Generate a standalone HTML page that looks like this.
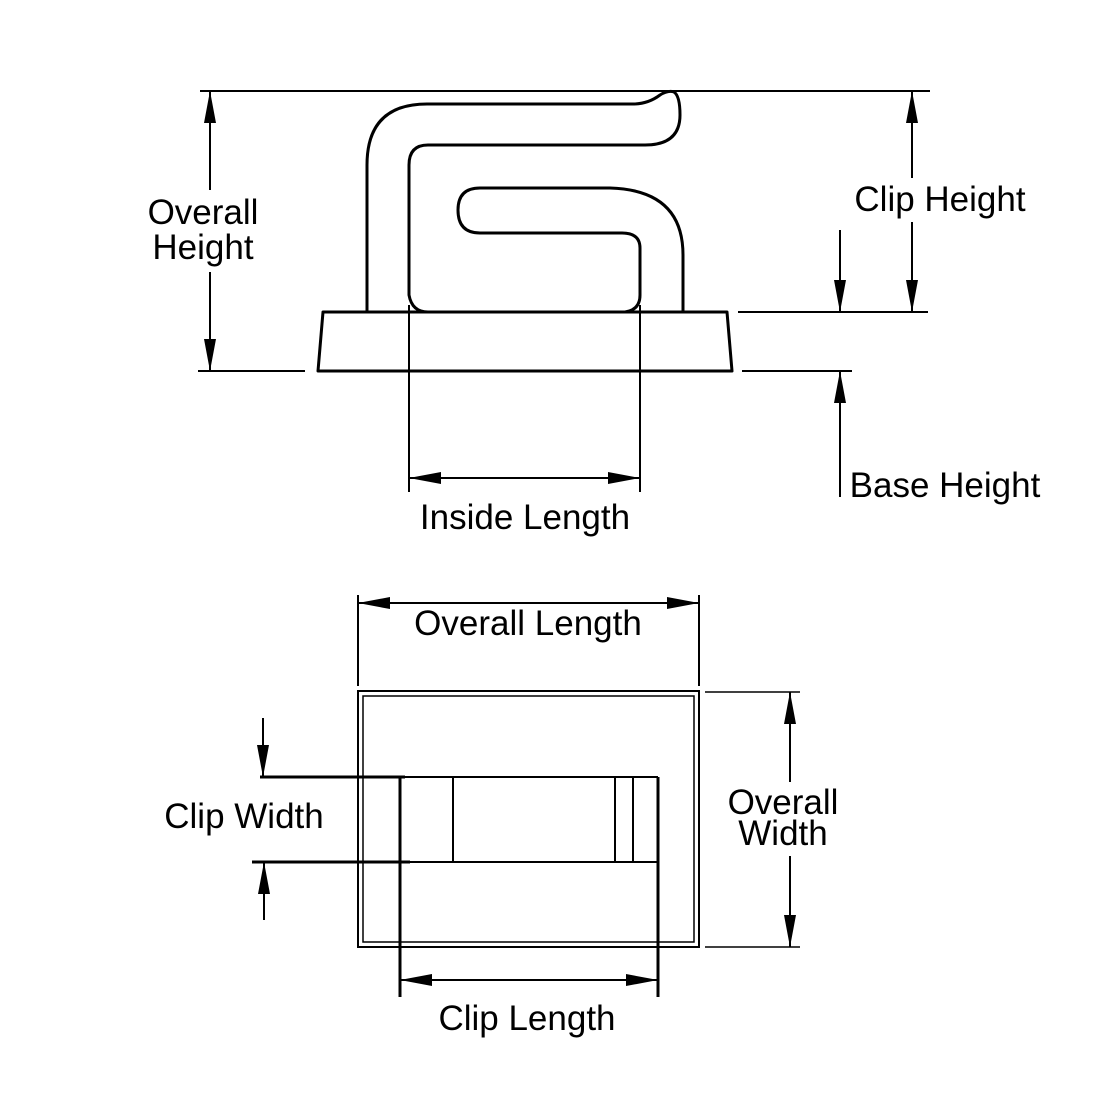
<!DOCTYPE html>
<html><head><style>html,body{margin:0;padding:0;background:#fff}</style></head>
<body>
<svg width="1100" height="1100" viewBox="0 0 1100 1100" xmlns="http://www.w3.org/2000/svg">
<defs>
<marker id="a" viewBox="0 0 32 12" refX="32" refY="6" markerWidth="32" markerHeight="12" markerUnits="userSpaceOnUse" orient="auto-start-reverse"><path d="M0,0 L32,6 L0,12 Z" fill="#000"/></marker>
</defs>
<g fill="none" stroke="#000" stroke-width="3" stroke-linejoin="round">
<path d="M367,313 L367,165 Q367,104 427,104 L633,104 Q648,104 660,95 Q668,90 674,92 Q680,96 680,115 Q680,145 645,145 L428,145 Q409,145 409,165 L409,295 Q412,312 428,312 L625,312 Q640,310 640,295 L640,248 Q640,233 622,233 L480,233 Q458,233 458,210 Q458,188 480,188 L610,188 Q683,190 683,255 L683,312"/>
<path d="M323,312 L727,312 L732,371 L318,371 Z"/>
</g>
<g stroke="#000" stroke-width="2" fill="none">
<line x1="200" y1="91" x2="930" y2="91"/>
<line x1="198" y1="371" x2="305" y2="371"/>
<line x1="742" y1="371" x2="852" y2="371"/>
<line x1="738" y1="312" x2="928" y2="312"/>
<line x1="210" y1="190" x2="210" y2="91" marker-end="url(#a)"/>
<line x1="210" y1="272" x2="210" y2="371" marker-end="url(#a)"/>
<line x1="912" y1="178" x2="912" y2="91" marker-end="url(#a)"/>
<line x1="912" y1="222" x2="912" y2="312" marker-end="url(#a)"/>
<line x1="840" y1="230" x2="840" y2="312" marker-end="url(#a)"/>
<line x1="840" y1="497" x2="840" y2="371" marker-end="url(#a)"/>
<line x1="409" y1="305" x2="409" y2="492"/>
<line x1="640" y1="305" x2="640" y2="492"/>
<line x1="409" y1="478" x2="640" y2="478" marker-start="url(#a)" marker-end="url(#a)"/>
<rect x="358" y="691" width="341" height="256"/>
<rect x="363" y="696" width="331" height="246" stroke-width="1.5"/>
<line x1="358" y1="595" x2="358" y2="686"/>
<line x1="699" y1="595" x2="699" y2="686"/>
<line x1="358" y1="603" x2="699" y2="603" marker-start="url(#a)" marker-end="url(#a)"/>
<line x1="705" y1="692" x2="800" y2="692" stroke-width="1.5"/>
<line x1="705" y1="947" x2="800" y2="947" stroke-width="1.5"/>
<line x1="790" y1="782" x2="790" y2="692" marker-end="url(#a)"/>
<line x1="790" y1="856" x2="790" y2="947" marker-end="url(#a)"/>
<line x1="400" y1="777" x2="658" y2="777"/>
<line x1="400" y1="862" x2="658" y2="862"/>
<line x1="260" y1="777" x2="405" y2="777" stroke-width="3"/>
<line x1="252" y1="862" x2="410" y2="862" stroke-width="3"/>
<line x1="453" y1="777" x2="453" y2="862"/>
<line x1="615" y1="777" x2="615" y2="862"/>
<line x1="633" y1="777" x2="633" y2="862"/>
<line x1="400" y1="777" x2="400" y2="997" stroke-width="3"/>
<line x1="658" y1="777" x2="658" y2="997" stroke-width="3"/>
<line x1="400" y1="980" x2="658" y2="980" marker-start="url(#a)" marker-end="url(#a)"/>
<line x1="263" y1="718" x2="263" y2="777" marker-end="url(#a)"/>
<line x1="264" y1="920" x2="264" y2="862" marker-end="url(#a)"/>
</g>
<g font-family="Liberation Sans, sans-serif" font-size="35" fill="#000">
<text x="203" y="224" text-anchor="middle">Overall</text>
<text x="203" y="259" text-anchor="middle">Height</text>
<text x="940" y="211" text-anchor="middle">Clip Height</text>
<text x="945" y="497" text-anchor="middle">Base Height</text>
<text x="525" y="529" text-anchor="middle">Inside Length</text>
<text x="528" y="635" text-anchor="middle">Overall Length</text>
<text x="783" y="814" text-anchor="middle">Overall</text>
<text x="783" y="845" text-anchor="middle">Width</text>
<text x="244" y="828" text-anchor="middle">Clip Width</text>
<text x="527" y="1030" text-anchor="middle">Clip Length</text>
</g>
</svg>
</body></html>
